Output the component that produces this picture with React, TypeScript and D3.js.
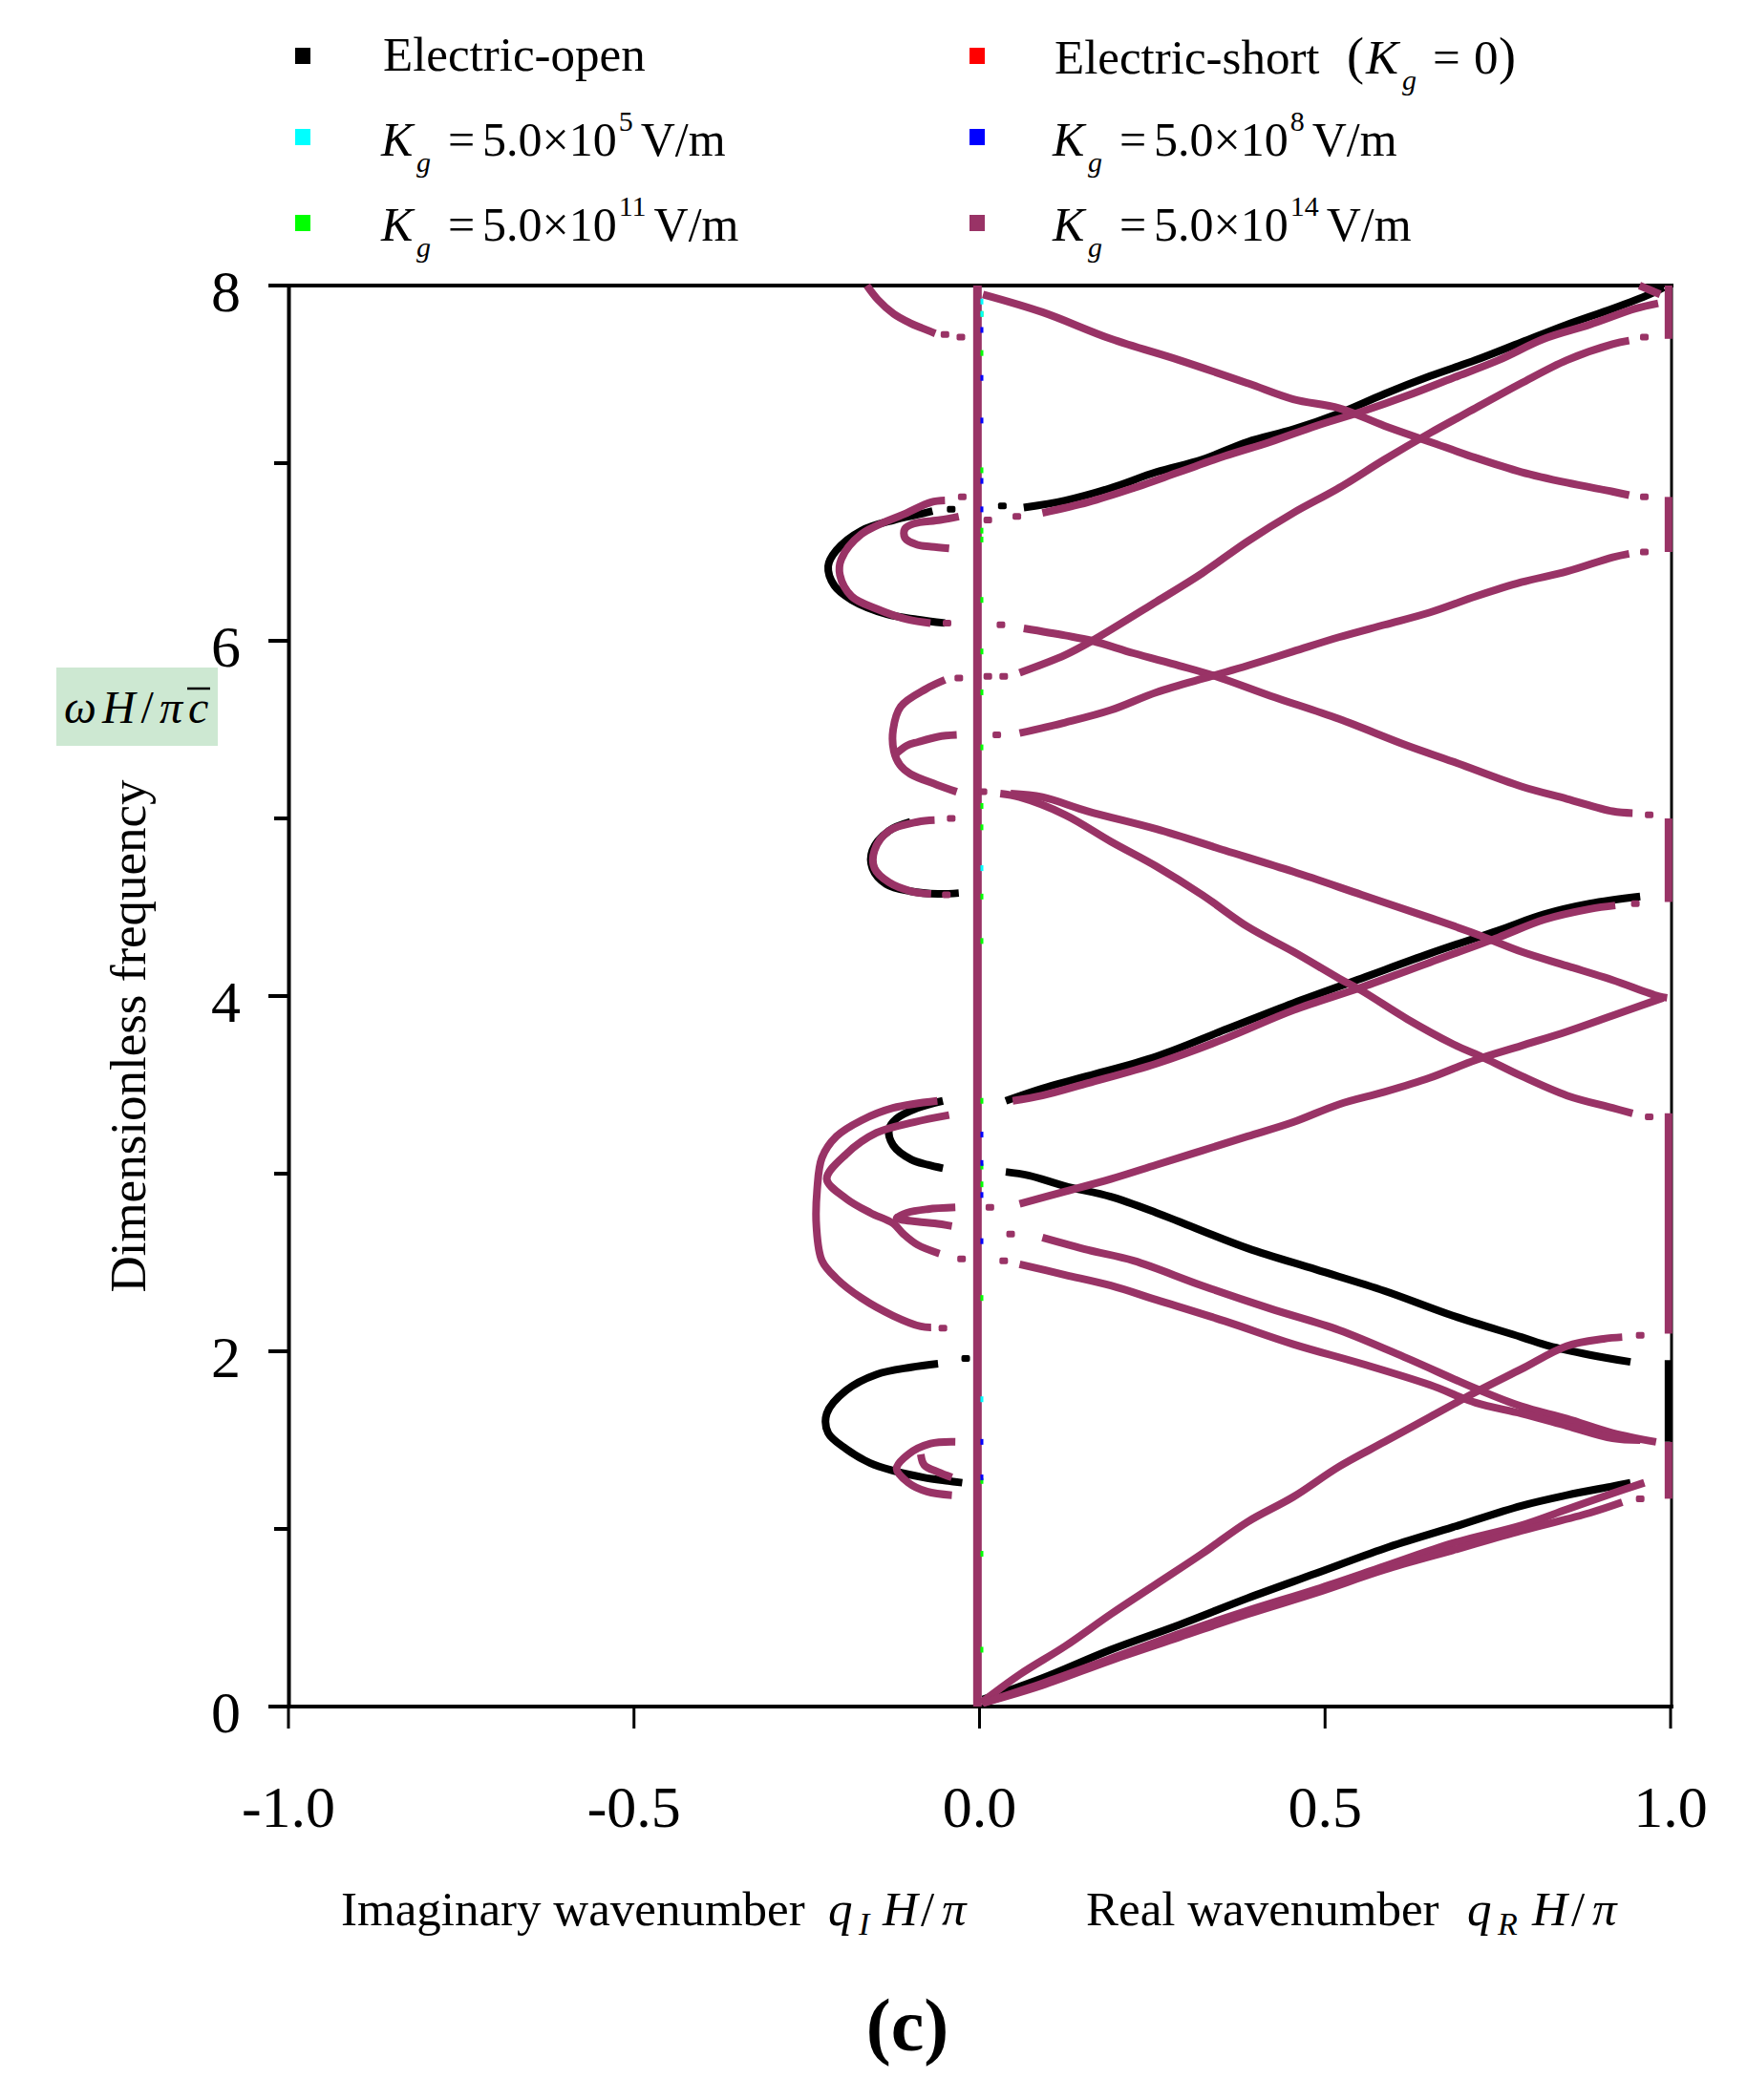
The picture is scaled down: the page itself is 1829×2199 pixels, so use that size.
import * as React from 'react';
import * as d3 from 'd3';

type Pt = [number, number];

// ---- axis ticks ----
const xTicks = [-1, -0.5, 0, 0.5, 1];
const xTickLabels = ['-1.0', '-0.5', '0.0', '0.5', '1.0'];
const yTicks = [0, 2, 4, 6, 8];
const yMinorTicks = [1, 3, 5, 7];

// ---- Electric-open (black) branches, [q, omega] ----
const openImag1: Pt[] = [[-0.041, 6.74], [-0.068, 6.73], [-0.09, 6.71], [-0.124, 6.68], [-0.171, 6.62], [-0.207, 6.51], [-0.219, 6.42], [-0.21, 6.31], [-0.185, 6.23], [-0.134, 6.15], [-0.09, 6.12], [-0.05, 6.1]];
const openImag2: Pt[] = [[-0.1, 4.98], [-0.131, 4.93], [-0.155, 4.82], [-0.155, 4.72], [-0.135, 4.63], [-0.1, 4.59], [-0.06, 4.575], [-0.03, 4.58]];
const openImag3: Pt[] = [[-0.053, 3.41], [-0.09, 3.37], [-0.12, 3.31], [-0.131, 3.25], [-0.125, 3.16], [-0.099, 3.08], [-0.075, 3.05], [-0.053, 3.03]];
const openImag4: Pt[] = [[-0.02, 1.96], [-0.06, 1.93], [-0.099, 1.91], [-0.149, 1.87], [-0.193, 1.78], [-0.221, 1.65], [-0.219, 1.54], [-0.193, 1.45], [-0.158, 1.37], [-0.127, 1.33], [-0.081, 1.29], [-0.045, 1.27], [-0.025, 1.26]];
const openReal1: Pt[] = [[0.033, 6.76], [0.064, 6.75], [0.124, 6.79], [0.19, 6.86], [0.256, 6.95], [0.322, 7.02], [0.388, 7.12], [0.454, 7.19], [0.52, 7.28], [0.586, 7.39], [0.652, 7.49], [0.718, 7.58], [0.784, 7.68], [0.85, 7.78], [0.916, 7.87], [0.969, 7.95], [0.99, 7.99]];
const openReal2: Pt[] = [[0.038, 3.41], [0.091, 3.48], [0.157, 3.55], [0.256, 3.66], [0.355, 3.81], [0.454, 3.96], [0.553, 4.1], [0.652, 4.24], [0.751, 4.37], [0.817, 4.46], [0.883, 4.52], [0.956, 4.56]];
const openReal3: Pt[] = [[0.038, 3.01], [0.071, 2.99], [0.124, 2.93], [0.19, 2.87], [0.256, 2.78], [0.289, 2.73], [0.388, 2.58], [0.487, 2.46], [0.586, 2.34], [0.685, 2.2], [0.784, 2.08], [0.824, 2.03], [0.883, 1.98], [0.942, 1.94]];
const openReal4: Pt[] = [[0.005, 0.04], [0.091, 0.16], [0.19, 0.32], [0.289, 0.46], [0.388, 0.61], [0.487, 0.75], [0.586, 0.89], [0.685, 1.01], [0.784, 1.13], [0.85, 1.19], [0.916, 1.24], [0.942, 1.26]];
const openEdge: Pt[] = [[0.997, 1.49], [0.997, 1.95]];

// ---- Kg = 5.0e14 V/m (purple) branches ----
const kZero: Pt[] = [[-0.003, 0], [-0.003, 8]];
const kImag1: Pt[] = [[-0.163, 8.0], [-0.147, 7.92], [-0.124, 7.84], [-0.101, 7.79], [-0.083, 7.76], [-0.064, 7.73], [-0.05, 7.725], [-0.027, 7.71]];
const kImag2: Pt[] = [[-0.025, 6.81], [-0.05, 6.79], [-0.07, 6.78], [-0.105, 6.72], [-0.171, 6.6], [-0.2, 6.46], [-0.202, 6.37], [-0.185, 6.25], [-0.149, 6.18], [-0.104, 6.12], [-0.071, 6.1], [-0.047, 6.1]];
const kImag3: Pt[] = [[-0.044, 6.52], [-0.07, 6.53], [-0.09, 6.54], [-0.108, 6.58], [-0.108, 6.63], [-0.095, 6.66], [-0.057, 6.68], [-0.03, 6.7]];
const kImag4: Pt[] = [[-0.03, 5.79], [-0.05, 5.78], [-0.077, 5.73], [-0.114, 5.63], [-0.125, 5.5], [-0.124, 5.38], [-0.115, 5.3], [-0.1, 5.25], [-0.062, 5.19], [-0.033, 5.15]];
const kImag5: Pt[] = [[-0.122, 5.36], [-0.105, 5.41], [-0.089, 5.43], [-0.06, 5.46], [-0.033, 5.47]];
const kImag6: Pt[] = [[-0.041, 5.0], [-0.065, 4.99], [-0.09, 4.98], [-0.131, 4.93], [-0.152, 4.82], [-0.152, 4.72], [-0.131, 4.64], [-0.099, 4.59], [-0.07, 4.575], [-0.048, 4.57]];
const kImag7: Pt[] = [[-0.061, 3.41], [-0.125, 3.37], [-0.171, 3.3], [-0.207, 3.21], [-0.228, 3.09], [-0.235, 2.91], [-0.236, 2.7], [-0.228, 2.51], [-0.207, 2.41], [-0.171, 2.3], [-0.125, 2.2], [-0.085, 2.14], [-0.07, 2.135], [-0.053, 2.13]];
const kImag8: Pt[] = [[-0.044, 3.33], [-0.095, 3.29], [-0.149, 3.23], [-0.193, 3.11], [-0.221, 2.97], [-0.193, 2.86], [-0.158, 2.78], [-0.125, 2.72], [-0.11, 2.66], [-0.09, 2.6], [-0.058, 2.55], [-0.026, 2.52]];
const kImag9: Pt[] = [[-0.035, 2.81], [-0.075, 2.8], [-0.105, 2.78], [-0.12, 2.75], [-0.09, 2.73], [-0.065, 2.72], [-0.04, 2.705]];
const kImag10: Pt[] = [[-0.035, 1.49], [-0.071, 1.48], [-0.103, 1.42], [-0.12, 1.34], [-0.103, 1.26], [-0.076, 1.21], [-0.04, 1.19]];
const kImag11: Pt[] = [[-0.085, 1.42], [-0.08, 1.36], [-0.06, 1.32], [-0.04, 1.29]];
const kReal1: Pt[] = [[0.005, 7.95], [0.091, 7.85], [0.19, 7.7], [0.289, 7.58], [0.388, 7.45], [0.454, 7.36], [0.52, 7.31], [0.586, 7.21], [0.652, 7.12], [0.718, 7.03], [0.784, 6.95], [0.85, 6.89], [0.916, 6.84], [0.94, 6.82], [0.962, 6.81]];
const kReal2: Pt[] = [[0.012, 6.68], [0.054, 6.7], [0.091, 6.72], [0.157, 6.78], [0.223, 6.86], [0.289, 6.95], [0.355, 7.04], [0.421, 7.12], [0.487, 7.21], [0.553, 7.29], [0.619, 7.38], [0.685, 7.48], [0.751, 7.58], [0.817, 7.7], [0.883, 7.78], [0.949, 7.87], [0.982, 7.9]];
const kReal3: Pt[] = [[0.955, 8.0], [0.985, 7.95]];
const kReal4: Pt[] = [[0.012, 5.8], [0.035, 5.8], [0.058, 5.82], [0.124, 5.92], [0.163, 6.0], [0.256, 6.22], [0.322, 6.38], [0.388, 6.56], [0.454, 6.72], [0.52, 6.86], [0.586, 7.02], [0.652, 7.17], [0.718, 7.31], [0.784, 7.45], [0.85, 7.58], [0.916, 7.67], [0.94, 7.69], [0.962, 7.71]];
const kReal5: Pt[] = [[0.031, 6.09], [0.064, 6.07], [0.124, 6.03], [0.163, 6.0], [0.223, 5.93], [0.289, 5.86], [0.342, 5.8], [0.421, 5.69], [0.52, 5.56], [0.619, 5.41], [0.685, 5.32], [0.784, 5.18], [0.85, 5.11], [0.916, 5.04], [0.945, 5.03], [0.969, 5.02]];
const kReal6: Pt[] = [[0.025, 5.47], [0.058, 5.48], [0.124, 5.54], [0.19, 5.61], [0.256, 5.71], [0.335, 5.8], [0.388, 5.86], [0.454, 5.94], [0.52, 6.02], [0.586, 6.09], [0.652, 6.16], [0.718, 6.25], [0.784, 6.33], [0.85, 6.39], [0.916, 6.47], [0.94, 6.49], [0.962, 6.5]];
const kReal7: Pt[] = [[0.005, 5.15], [0.045, 5.14], [0.091, 5.12], [0.157, 5.04], [0.256, 4.94], [0.355, 4.82], [0.454, 4.7], [0.553, 4.57], [0.652, 4.44], [0.718, 4.35], [0.784, 4.25], [0.85, 4.17], [0.916, 4.09], [0.982, 4.0], [0.995, 3.99]];
const kReal8: Pt[] = [[0.03, 5.14], [0.058, 5.12], [0.124, 5.02], [0.19, 4.87], [0.256, 4.73], [0.322, 4.57], [0.388, 4.39], [0.454, 4.25], [0.52, 4.1], [0.553, 4.03], [0.619, 3.87], [0.685, 3.73], [0.731, 3.65], [0.784, 3.55], [0.85, 3.44], [0.916, 3.37], [0.945, 3.34], [0.969, 3.32]];
const kReal9: Pt[] = [[0.048, 3.41], [0.091, 3.44], [0.157, 3.51], [0.256, 3.62], [0.355, 3.76], [0.454, 3.92], [0.553, 4.05], [0.652, 4.19], [0.751, 4.33], [0.817, 4.43], [0.883, 4.49], [0.92, 4.51], [0.949, 4.52]];
const kReal10: Pt[] = [[0.015, 2.81], [0.058, 2.83], [0.124, 2.9], [0.19, 2.97], [0.256, 3.05], [0.322, 3.13], [0.388, 3.21], [0.454, 3.29], [0.52, 3.39], [0.586, 3.46], [0.652, 3.54], [0.718, 3.64], [0.784, 3.72], [0.85, 3.8], [0.916, 3.89], [0.989, 3.99]];
const kReal11: Pt[] = [[0.045, 2.66], [0.091, 2.64], [0.157, 2.57], [0.223, 2.51], [0.322, 2.37], [0.421, 2.24], [0.52, 2.12], [0.619, 1.96], [0.718, 1.79], [0.784, 1.69], [0.85, 1.62], [0.916, 1.54], [0.979, 1.49]];
const kReal12: Pt[] = [[0.035, 2.51], [0.058, 2.49], [0.124, 2.43], [0.19, 2.37], [0.256, 2.29], [0.355, 2.17], [0.454, 2.04], [0.553, 1.93], [0.652, 1.81], [0.718, 1.71], [0.784, 1.65], [0.85, 1.58], [0.916, 1.51], [0.956, 1.5]];
const kReal13: Pt[] = [[0.002, 0.02], [0.058, 0.18], [0.124, 0.34], [0.19, 0.52], [0.256, 0.69], [0.322, 0.86], [0.388, 1.04], [0.454, 1.18], [0.52, 1.35], [0.586, 1.49], [0.652, 1.63], [0.718, 1.77], [0.784, 1.9], [0.85, 2.03], [0.903, 2.07], [0.93, 2.08], [0.956, 2.09]];
const kReal14: Pt[] = [[0.005, 0.02], [0.091, 0.13], [0.19, 0.27], [0.289, 0.41], [0.388, 0.54], [0.487, 0.66], [0.586, 0.79], [0.685, 0.92], [0.784, 1.02], [0.85, 1.11], [0.916, 1.2], [0.962, 1.26]];
const kReal15: Pt[] = [[0.005, 0.02], [0.091, 0.12], [0.19, 0.26], [0.289, 0.39], [0.388, 0.52], [0.487, 0.64], [0.586, 0.77], [0.685, 0.88], [0.784, 0.99], [0.883, 1.09], [0.93, 1.15], [0.956, 1.17]];
const kEdge1: Pt[] = [[0.997, 7.7], [0.997, 8.0]];
const kEdge2: Pt[] = [[0.997, 6.5], [0.997, 6.81]];
const kEdge3: Pt[] = [[0.997, 4.53], [0.997, 5.0]];
const kEdge4: Pt[] = [[0.997, 2.1], [0.997, 3.34]];
const kEdge5: Pt[] = [[0.997, 1.17], [0.997, 1.49]];

// ---- other Kg values: only specks visible along q = 0 ----
const cyanOmega = [7.91, 4.72, 1.73, 7.84];
const blueOmega = [7.75, 7.48, 7.24, 6.9, 6.74, 3.22, 3.06, 2.88, 2.62, 1.49, 1.29];
const greenOmega = [7.84, 7.62, 6.96, 6.62, 6.57, 6.23, 5.94, 5.71, 5.4, 5.07, 4.95, 4.56, 4.31, 3.41, 3.04, 2.94, 2.3, 1.27, 0.86, 0.32];

const PURPLE = '#993366';

// head / tail: how many end samples are drawn as loose dots instead of a solid run
type Branch = { pts: Pt[], head: number, tail: number };
const b = (pts: Pt[], head = 0, tail = 0): Branch => ({ pts, head, tail });

const blackSeries: Branch[] = [
    b(openImag1, 2, 0), b(openImag2), b(openImag3), b(openImag4, 2, 1), b(openReal1, 2, 0),
    b(openReal2, 1, 0), b(openReal3, 1, 1), b(openReal4), b(openEdge),
];
const purpleSeries: Branch[] = [
    b(kImag1, 0, 3), b(kImag2, 2, 2), b(kImag3, 1, 1), b(kImag4, 2, 1), b(kImag5, 0, 1), b(kImag6, 2, 2),
    b(kImag7, 1, 2), b(kImag8, 1, 2), b(kImag9, 1, 1), b(kImag10, 1, 1), b(kImag11, 0, 1),
    b(kReal1, 0, 2), b(kReal2, 3, 0), b(kReal3), b(kReal4, 3, 2), b(kReal5, 2, 2), b(kReal6, 2, 2),
    b(kReal7, 2, 0), b(kReal8, 1, 2), b(kReal9, 1, 2), b(kReal10, 2, 0), b(kReal11, 2, 0), b(kReal12, 2, 0),
    b(kReal13, 0, 2), b(kReal14), b(kReal15, 0, 2),
    b(kEdge1), b(kEdge2), b(kEdge3), b(kEdge4), b(kEdge5),
];

const legendItems = [
    { color: '#000000', col: 0, row: 0 },
    { color: '#ff0000', col: 1, row: 0 },
    { color: '#00ffff', col: 0, row: 1 },
    { color: '#0000ff', col: 1, row: 1 },
    { color: '#00ff00', col: 0, row: 2 },
    { color: PURPLE, col: 1, row: 2 },
];

function KLabel(props: { x: number, y: number, exp: string }) {
    const { x, y, exp } = props;
    return (
        <text y={y} fontSize={50}>
            <tspan x={x} fontStyle="italic">K</tspan>
            <tspan x={x + 37} dy={17} fontSize={30} fontStyle="italic">g</tspan>
            <tspan x={x + 70} dy={-17}>=</tspan>
            <tspan x={x + 106}>5.0×10</tspan>
            <tspan dx={2} dy={-26} fontSize={30}>{exp}</tspan>
            <tspan dx={8} dy={26}>V/m</tspan>
        </text>
    );
}

export default function App() {
    const x = d3.scaleLinear().domain([-1, 1]).range([302, 1749]);
    const y = d3.scaleLinear().domain([0, 8]).range([1787, 299]);
    const line = d3.line<Pt>().x(d => x(d[0])).y(d => y(d[1])).curve(d3.curveCatmullRom.alpha(0.5));

    const drawBranches = (list: Branch[], color: string, key: string) => list.map((s, i) => {
        const n = s.pts.length;
        const solid = s.pts.slice(Math.max(0, s.head - 1), n - Math.max(0, s.tail - 1));
        const loose = s.pts.filter((_, j) => j < s.head - 1 || j > n - s.tail);
        return (
            <g key={key + i}>
                <path d={line(solid) || ''} stroke={color} strokeWidth={8} fill="none" strokeLinejoin="round" />
                {loose.map((p, j) => (
                    <rect key={j} x={x(p[0]) - 4.5} y={y(p[1]) - 3.5} width={9} height={7} rx={2} fill={color} />
                ))}
            </g>
        );
    });

    return (
        <svg width={1829} height={2199} style={{ position: 'absolute', left: 0, top: 0, background: '#fff' }}
             fontFamily="'Liberation Serif', 'Times New Roman', serif">
            {/* legend */}
            {legendItems.map((d, i) => (
                <rect key={i} x={d.col === 0 ? 309 : 1015} y={[50, 135, 225][d.row]} width={16} height={17} fill={d.color} />
            ))}
            <text x={401} y={74} fontSize={51}>Electric-open</text>
            <text y={77} fontSize={51}>
                <tspan x={1104}>Electric-short</tspan>
                <tspan x={1410} fontSize={54}>(</tspan>
                <tspan x={1430} fontStyle="italic">K</tspan>
                <tspan x={1468} dy={17} fontSize={30} fontStyle="italic">g</tspan>
                <tspan x={1500} dy={-17}>=</tspan>
                <tspan x={1543}>0</tspan>
                <tspan x={1569} fontSize={54}>)</tspan>
            </text>
            <KLabel x={399} y={163} exp="5" />
            <KLabel x={1102} y={163} exp="8" />
            <KLabel x={399} y={252} exp="11" />
            <KLabel x={1102} y={252} exp="14" />

            {/* frame and axes */}
            <line x1={281} x2={1752} y1={299} y2={299} stroke="#000" strokeWidth={4} />
            <line x1={281} x2={1752} y1={1787} y2={1787} stroke="#000" strokeWidth={4} />
            <line x1={302.5} x2={302.5} y1={299} y2={1789} stroke="#000" strokeWidth={4} />
            <line x1={1750} x2={1750} y1={299} y2={1789} stroke="#000" strokeWidth={3} />
            {yTicks.map(t => (
                <g key={'yt' + t}>
                    <line x1={281} x2={302} y1={y(t)} y2={y(t)} stroke="#000" strokeWidth={4} />
                    <text x={252} y={y(t) + 27} fontSize={62} textAnchor="end">{t}</text>
                </g>
            ))}
            {yMinorTicks.map(t => (
                <line key={'ym' + t} x1={287} x2={302} y1={y(t)} y2={y(t)} stroke="#000" strokeWidth={4} />
            ))}
            {xTicks.map((t, i) => (
                <g key={'xt' + t}>
                    <line x1={x(t)} x2={x(t)} y1={1787} y2={1810} stroke="#000" strokeWidth={3} />
                    <text x={x(t)} y={1913} fontSize={62} textAnchor="middle">{xTickLabels[i]}</text>
                </g>
            ))}

            {/* data */}
            {drawBranches(blackSeries, '#000', 'b')}
            <path d={line(kZero) || ''} stroke={PURPLE} strokeWidth={9} fill="none" />
            {drawBranches(purpleSeries, PURPLE, 'p')}
            {greenOmega.map((w, i) => (
                <rect key={'g' + i} x={x(0) + 1} y={y(w) - 3} width={3} height={6} fill="#00ff00" />
            ))}
            {blueOmega.map((w, i) => (
                <rect key={'bl' + i} x={x(0) + 1} y={y(w) - 3} width={3} height={6} fill="#0000ff" />
            ))}
            {cyanOmega.map((w, i) => (
                <rect key={'c' + i} x={x(0) + 1} y={y(w) - 3} width={3} height={6} fill="#00ffff" />
            ))}

            {/* axis titles */}
            <rect x={59} y={699} width={169} height={82} fill="#cde8d2" />
            <text x={67} y={757} fontSize={48} fontStyle="italic" letterSpacing={6}>ωH<tspan fontStyle="normal">/</tspan>πc</text>
            <line x1={196} x2={220} y1={721} y2={721} stroke="#000" strokeWidth={2.5} />
            <text transform="translate(152,1085) rotate(-90)" textAnchor="middle" fontSize={53}>Dimensionless frequency</text>

            <text y={2016} fontSize={51}>
                <tspan x={357}>Imaginary wavenumber</tspan>
                <tspan x={867} fontStyle="italic">q</tspan>
                <tspan x={899} dy={10} fontSize={34} fontStyle="italic">I</tspan>
                <tspan x={924} dy={-10} fontStyle="italic">H</tspan>
                <tspan x={964}>/</tspan>
                <tspan x={986} fontStyle="italic">π</tspan>
            </text>
            <text y={2016} fontSize={51}>
                <tspan x={1137}>Real wavenumber</tspan>
                <tspan x={1536} fontStyle="italic">q</tspan>
                <tspan x={1568} dy={10} fontSize={34} fontStyle="italic">R</tspan>
                <tspan x={1604} dy={-10} fontStyle="italic">H</tspan>
                <tspan x={1645}>/</tspan>
                <tspan x={1667} fontStyle="italic">π</tspan>
            </text>
            <text x={950} y={2147} fontSize={78} fontWeight="bold" textAnchor="middle">(c)</text>
        </svg>
    );
}
